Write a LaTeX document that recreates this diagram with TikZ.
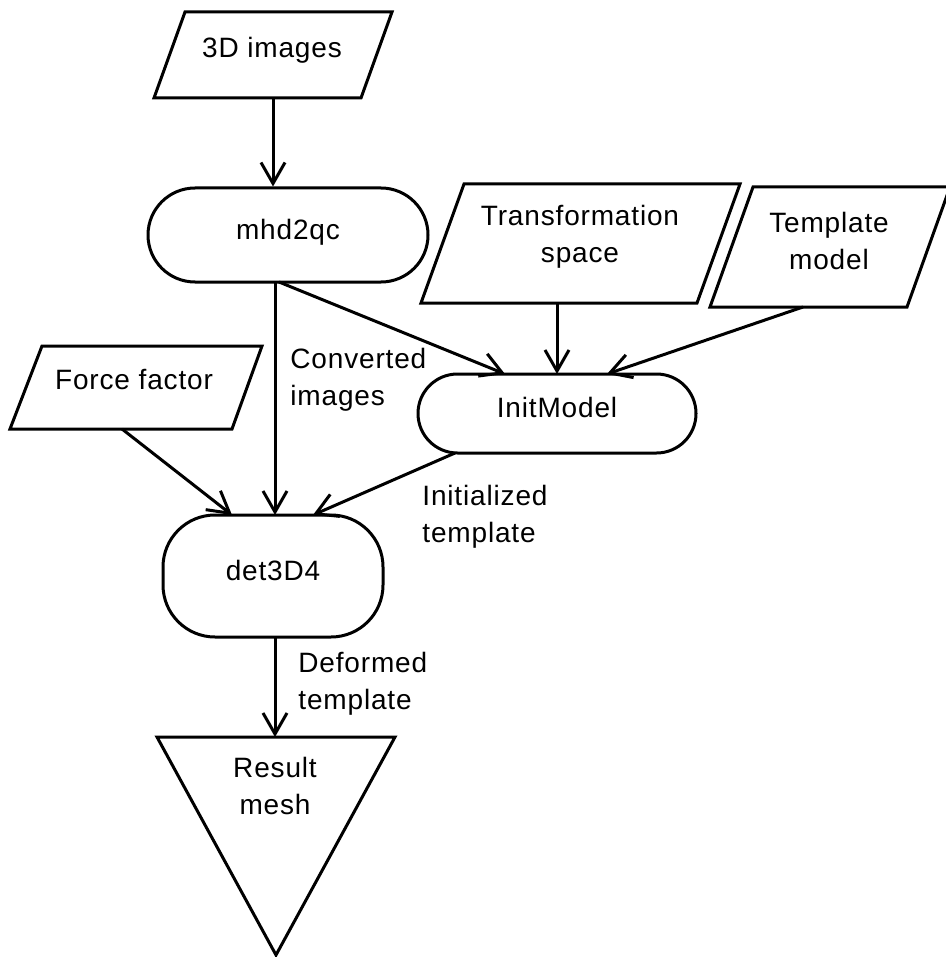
\documentclass[tikz,border=0pt]{standalone}
\usepackage{fontspec}
\setmainfont[LetterSpace=3]{Liberation Sans}
\usetikzlibrary{arrows.meta,shapes.misc}
\tikzset{
  outline/.style={line width=1.5pt, line join=miter},
  flow/.style={line width=1.5pt,
    -{Straight Barb[length=10.5pt,width=12pt,line width=1.5pt]}},
  txt/.style={font=\fontsize{14pt}{18.5pt}\selectfont, inner sep=0pt, align=center},
  note/.style={txt, align=left, anchor=west},
  terminal/.style={draw, outline, rounded rectangle, txt,
    text height=9pt, text depth=5pt},
  procbox/.style={draw, outline, rectangle, rounded corners=26pt, txt,
    text height=9pt, text depth=5pt}
}
\begin{document}
\begin{tikzpicture}[x=0.5pt,y=-0.5pt]
\useasboundingbox (0,0) rectangle (946,957);
\fill[white] (0,0) rectangle (946,957);

% input data (parallelograms)
\draw[outline] (185,12) -- (392,12) -- (361,98) -- (154,98) -- cycle;
\node[txt] (img) at (272,50) {3D images};
\coordinate (img-out) at (273,98);

\draw[outline] (464,184) -- (740,184) -- (697,303) -- (421,303) -- cycle;
\node[txt] (tspace) at (580,237) {Transformation\\space};
\coordinate (tspace-out) at (557,303);

\draw[outline] (753,187) -- (950,187) -- (907,307) -- (710,307) -- cycle;
\node[txt] (tmodel) at (829,241) {Template\\model};
\coordinate (tmodel-out) at (803,307);

\draw[outline] (42,346) -- (262,346) -- (232,429) -- (10,429) -- cycle;
\node[txt] (force) at (134,380) {Force factor};
\coordinate (force-out) at (122,429);

% programs
\node[terminal, minimum width=140pt, minimum height=47pt] (mhd) at (288,235) {mhd2qc};
\node[terminal, minimum width=139pt, minimum height=39.5pt] (init) at (557,413.5) {InitModel};
\node[procbox, minimum width=110pt, minimum height=61pt] (det) at (273,576) {det3D4};

% result (downward triangle)
\draw[outline] (157,737) -- (395,737) -- (276,955) -- cycle;
\node[txt] (res) at (275,786) {Result\\mesh};
\coordinate (res-in) at (275,737);

% connection points on the program nodes
\coordinate (mhd-a) at (275,282);
\coordinate (mhd-b) at (279,282);
\coordinate (init-a) at (505,374);
\coordinate (init-b) at (557,374);
\coordinate (init-c) at (607,374);
\coordinate (init-d) at (455,453);
\coordinate (det-a) at (232,515);
\coordinate (det-b) at (275,515);
\coordinate (det-c) at (313,515);
\coordinate (det-d) at (275,637);

% flows
\draw[flow] (img-out) -- (mhd.north -| img-out);
\draw[flow] (mhd-a) -- (det-b);
\draw[flow] (mhd-b) -- (init-a);
\draw[flow] (tspace-out) -- (init-b);
\draw[flow] (tmodel-out) -- (init-c);
\draw[flow] (force-out) -- (det-a);
\draw[flow] (init-d) -- (det-c);
\draw[flow] (det-d) -- (res-in);

% edge labels
\node[note] (lconv) at (290,380) {Converted\\images};
\node[note] (linit) at (422,517) {Initialized\\template};
\node[note] (ldef) at (298,684) {Deformed\\template};
\end{tikzpicture}
\end{document}
